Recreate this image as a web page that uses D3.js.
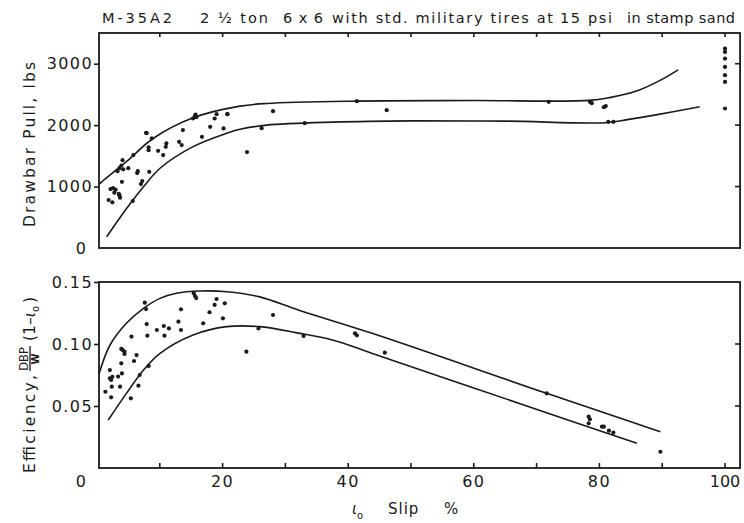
<!DOCTYPE html>
<html><head><meta charset="utf-8">
<script src="https://cdn.jsdelivr.net/npm/d3@7"></script>
<style>
body{margin:0;background:#fff;}
svg{display:block;}
text{font-family:"DejaVu Sans",sans-serif;fill:#1a1a1a;}
</style></head>
<body>
<svg id="c" width="744" height="523"></svg>
<script>
// ---------- data ----------
const titleParts = ["M-35A2", "2 \u00BD ton", "6 x 6", "with std. military tires at", "15 psi", "in stamp sand"];
const xTickLabels = [20, 40, 60, 80, 100];
const xTickMarks = [10, 20, 30, 40, 50, 60, 70, 80, 90, 100];
const pullTicks = [1000, 2000, 3000];
const effTicks = [0.05, 0.10, 0.15];

// Drawbar pull scatter (slip %, lbs)
const pullSlip  = [1.85,2.45,2.15,2.55,2.96,2.76,3.57,3.67,3.47,3.97,3.26,3.57,3.87,4.17,4.07,4.98,5.79,5.69,6.4,6.5,7.0,7.2,7.81,7.91,8.22,8.22,8.32,8.72,9.73,10.54,10.95,11.05,13.07,13.48,13.68,15.3,15.6,15.8,15.7,16.71,18.02,18.73,19.04,20.15,20.76,20.76,23.89,26.21,28.03,33.09,41.38,46.13,71.92,78.49,78.79,80.71,81.02,81.42,82.23,100,100,100,100,100,100,100];
const pullValue = [780,743,960,975,950,900,860,820,880,1078,1250,1300,1340,1280,1430,1300,1512,764,1220,1250,1040,1090,1875,1870,1593,1640,1240,1783,1582,1512,1647,1702,1728,1675,1919,2110,2150,2130,2170,1810,1972,2108,2178,1946,2178,2178,1561,1951,2228,2032,2390,2244,2379,2380,2358,2293,2310,2054,2054,3247,3192,3084,2948,2813,2704,2271];

// Efficiency scatter (slip %, DBP/W (1-i0))
const effSlip  = [1.34,2.05,2.05,2.25,2.45,2.35,2.25,3.36,3.67,3.97,3.87,3.87,4.07,4.38,4.38,5.49,5.39,5.89,6.3,6.6,6.8,7.61,7.81,7.91,8.02,8.22,9.53,10.64,10.74,11.45,12.97,13.37,13.37,15.6,15.4,15.8,16.91,17.92,18.73,19.04,20.05,20.35,23.79,25.71,28.03,32.89,41.08,41.38,45.83,71.61,78.29,78.49,78.29,80.41,80.71,81.52,82.23,89.71];
const effValue = [0.0615,0.079,0.0723,0.071,0.0735,0.0656,0.057,0.0737,0.0656,0.0763,0.0844,0.096,0.0952,0.0938,0.092,0.106,0.0562,0.0863,0.0911,0.0664,0.075,0.1333,0.1282,0.1161,0.1067,0.0823,0.1113,0.1145,0.1067,0.1126,0.118,0.128,0.1113,0.1387,0.141,0.137,0.1167,0.1256,0.1315,0.1363,0.1207,0.1328,0.0938,0.1126,0.1234,0.1065,0.1086,0.107,0.093,0.0602,0.0414,0.0393,0.036,0.0333,0.0333,0.0301,0.0285,0.0131];

// Fitted envelope curves
const pullUpperSlip  = [0.33,0.74,4.68,8.93,15.3,22.78,27.02,40.27,60.19,78.79,83.55,86.27,89.51,92.54];
const pullUpperValue = [1040,1078,1405,1783,2120,2309,2353,2390,2400,2407,2490,2569,2720,2900];
const pullLowerSlip  = [1.54,4.68,7.41,10.04,15.3,20.65,22.78,27.02,37.54,50.08,65.24,80.91,84.45,88.8,95.98];
const pullLowerValue = [184,640,998,1298,1650,1868,1933,2000,2049,2070,2065,2040,2090,2163,2298];
const effUpperSlip  = [0.33,2.05,4.68,7.41,10.04,12.66,16.41,20.65,25.91,32.28,43.81,71.61,89.71];
const effUpperValue = [0.076,0.099,0.1167,0.1288,0.1368,0.1409,0.1427,0.1422,0.138,0.127,0.1086,0.0602,0.0293];
const effLowerSlip  = [1.8,4.68,7.41,10.04,15.3,20.65,25.91,31.88,37.64,43.5,70.3,85.97];
const effLowerValue = [0.0387,0.0602,0.079,0.0925,0.1073,0.114,0.114,0.109,0.103,0.093,0.0468,0.0199];

// ---------- drawing ----------
const svg = d3.select("#c");
const ink = "#1a1a1a";
const x = d3.scaleLinear().domain([0,100]).range([97,725]);
const xLo = 0.32, xHi = 102.4;
const yPull = d3.scaleLinear().domain([0,3500]).range([248,33]);
const yEff  = d3.scaleLinear().domain([0,0.15]).range([468,282]);

// title (word groups placed along the top)
const titleX = [102, 200, 283, 332, 560, 627];
const titleW = [70, 68, 40, 221, 52, 108];
svg.selectAll(".title").data(titleParts).enter().append("text")
  .attr("x", (d,i)=>titleX[i]).attr("y", 23)
  .attr("font-size", 14.5).attr("textLength", (d,i)=>titleW[i]).attr("lengthAdjust","spacing")
  .text(d=>d);

function panel(y, yTicks, fmt, upS, upV, loS, loV, ptS, ptV, topTicks, bottomTicks){
  const g = svg.append("g");
  const x0 = x(xLo), x1 = x(xHi), yb = y.range()[0], yt = y.range()[1];
  g.append("rect").attr("x", x0).attr("y", yt).attr("width", x1-x0).attr("height", yb-yt)
    .attr("fill","none").attr("stroke",ink).attr("stroke-width",1.8);
  const la = g.append("g").attr("transform",`translate(${x0},0)`)
    .call(d3.axisLeft(y).tickValues(yTicks).tickSize(5).tickPadding(1).tickFormat(fmt));
  la.select(".domain").remove();
  la.selectAll("line").attr("stroke",ink).attr("stroke-width",1.6);
  la.selectAll("text").attr("font-size",16).attr("letter-spacing",1.4).attr("fill",ink).attr("font-family","DejaVu Sans");
  g.selectAll(".rt").data(yTicks.filter(v=>y(v)>yt+2)).enter().append("line")
    .attr("x1",x1).attr("x2",x1-5).attr("y1",d=>y(d)).attr("y2",d=>y(d))
    .attr("stroke",ink).attr("stroke-width",1.6);
  if(topTicks){
    g.selectAll(".tt").data(xTickMarks).enter().append("line")
      .attr("x1",d=>x(d)).attr("x2",d=>x(d)).attr("y1",yt).attr("y2",yt+4)
      .attr("stroke",ink).attr("stroke-width",1.6);
  }
  if(bottomTicks){
    g.selectAll(".bt").data(xTickMarks).enter().append("line")
      .attr("x1",d=>x(d)).attr("x2",d=>x(d)).attr("y1",yb).attr("y2",yb-5)
      .attr("stroke",ink).attr("stroke-width",1.6);
  }
  const line = d3.line().x(d=>x(d[0])).y(d=>y(d[1])).curve(d3.curveCatmullRom.alpha(0.5));
  [[upS,upV],[loS,loV]].forEach(([s,v])=>{
    g.append("path").datum(s.map((d,i)=>[d,v[i]])).attr("d",line)
      .attr("fill","none").attr("stroke",ink).attr("stroke-width",1.6);
  });
  g.selectAll(".pt").data(ptS.map((d,i)=>[d,ptV[i]])).enter().append("circle")
    .attr("cx",d=>x(d[0])).attr("cy",d=>y(d[1])).attr("r",2.1).attr("fill",ink);
  return g;
}

panel(yPull, pullTicks, d3.format("d"), pullUpperSlip, pullUpperValue, pullLowerSlip, pullLowerValue, pullSlip, pullValue, true, false);
panel(yEff, effTicks, d3.format(".2f"), effUpperSlip, effUpperValue, effLowerSlip, effLowerValue, effSlip, effValue, false, true);

// zero labels
svg.append("text").attr("x", x(0)-11).attr("y", yPull(0)).attr("dy","0.36em")
  .attr("text-anchor","end").attr("font-size",16).text("0");
svg.append("text").attr("x", x(0)-11).attr("y", 487)
  .attr("text-anchor","end").attr("font-size",16).text("0");

// x tick labels
svg.selectAll(".xl").data(xTickLabels).enter().append("text")
  .attr("x",d=>x(d)).attr("y",487).attr("text-anchor","middle")
  .attr("font-size",16).attr("letter-spacing",d=>d===100?0:1.4).text(d=>d);

// x axis title
const xt = svg.append("text").attr("y",514).attr("font-size",15);
xt.append("tspan").attr("x",352).attr("font-style","italic").text("\u03B9");
xt.append("tspan").attr("font-size",10).attr("dy",5).text("o");
xt.append("tspan").attr("x",388).attr("dy",-5).attr("letter-spacing",1).text("Slip");
xt.append("tspan").attr("x",444).text("%");

// y axis titles
svg.append("text").attr("transform","translate(35,227) rotate(-90)")
  .attr("font-size",15.5).attr("textLength",165).attr("lengthAdjust","spacing")
  .text("Drawbar Pull, lbs");

const yl = svg.append("g").attr("transform","translate(35,473) rotate(-90)");
yl.append("text").attr("x",0).attr("y",0).attr("font-size",15.5)
  .attr("textLength",98).attr("lengthAdjust","spacing").text("Efficiency,");
yl.append("text").attr("x",114).attr("y",-7).attr("font-size",11.5).attr("text-anchor","middle").text("DBP");
yl.append("line").attr("x1",102).attr("x2",127).attr("y1",-5).attr("y2",-5).attr("stroke",ink).attr("stroke-width",1.3);
yl.append("text").attr("x",114).attr("y",4).attr("font-size",10).attr("text-anchor","middle").attr("font-weight","bold").text("W");
const pt = yl.append("text").attr("x",132).attr("y",0).attr("font-size",15.5);
pt.append("tspan").text("(1\u2013");
pt.append("tspan").attr("font-style","italic").text("\u03B9");
pt.append("tspan").attr("font-size",10).attr("dy",4).text("o");
pt.append("tspan").attr("dy",-4).attr("dx",3).text(")");
</script>
</body></html>
